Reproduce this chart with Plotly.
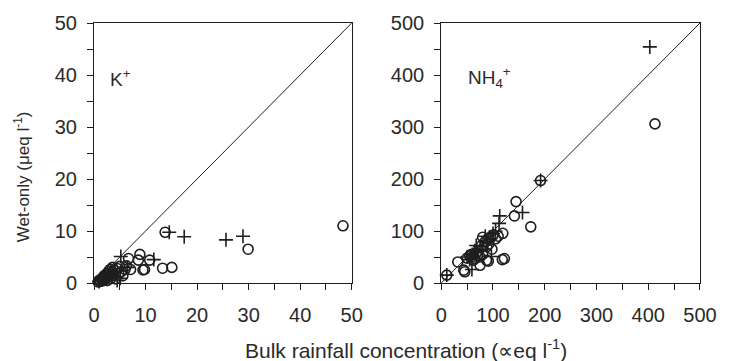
import plotly.graph_objects as go

# K+ panel (bulk x, wet-only y), ueq/l
k_circ_x = [0.8,1.0,1.2,1.5,1.6,1.8,2.0,2.1,2.3,2.5,2.6,2.8,3.0,3.1,3.3,3.5,3.6,3.8,4.0,4.2,4.5,4.8,5.0,5.3,5.6,6.0,6.3,7.1,6.7,8.6,8.9,9.5,9.8,10.8,13.3,15.1,13.8,29.9,48.3]
k_circ_y = [0.2,0.5,0.3,0.8,0.4,1.2,0.6,1.5,1.0,1.8,0.5,2.2,1.3,2.6,0.9,2.0,3.0,1.5,2.4,0.8,2.8,1.8,3.2,2.2,1.4,2.6,3.3,2.6,4.7,4.4,5.5,2.5,2.6,4.4,2.85,3.0,9.75,6.5,11.0]
k_plus_x = [1.0,1.5,2.0,2.5,3.0,3.5,4.0,4.5,3.2,5.1,5.2,6.5,11.6,14.6,17.5,25.6,28.9]
k_plus_y = [0.3,0.6,1.0,0.7,1.6,1.2,2.0,0.5,2.5,0.9,5.1,3.0,4.5,9.75,8.9,8.3,9.0]

# NH4+ panel
n_circ_x = [10.7,32,43.6,45.5,75,87.7,91,118,122,50,55,60,65,70,75,80,62,58,68,78,85,90,95,100,88,92,105,98,80,110,119,141.4,144.6,173,191.9,413]
n_circ_y = [15.2,40.5,24.7,21.5,34,43.7,42,45,47,48,52,50,47,53,50,55,44,55,58,72,80,85,88,92,70,75,85,65,88,90,95.6,129,156.5,108,197,306]
n_plus_x = [10.7,50,55,59.3,60,65,67.6,70,75,80,85,90,95,97,100,105,111.7,113,157,192,403]
n_plus_y = [15.2,50,45,26,55,62,72,60,70,65,90,80,85,51,95,100,114.6,129,135.6,197,454]

k_range = [0, 50]
n_range = [0, 500]

ink = "#1e1e1e"
txt = "#2a2a2a"
font = "Liberation Sans, Arial, sans-serif"

fig = go.Figure()

def add_panel(xa, ya, cx, cy, px, py, rng):
    fig.add_trace(go.Scatter(x=rng, y=rng, mode="lines", line=dict(color=ink, width=1),
                             xaxis=xa, yaxis=ya, showlegend=False, hoverinfo="skip"))
    fig.add_trace(go.Scatter(x=cx, y=cy, mode="markers", xaxis=xa, yaxis=ya, showlegend=False,
                             cliponaxis=False,
                             marker=dict(symbol="circle-open", size=10, color=ink, line=dict(width=1.6, color=ink))))
    fig.add_trace(go.Scatter(x=px, y=py, mode="markers", xaxis=xa, yaxis=ya, showlegend=False,
                             cliponaxis=False,
                             marker=dict(symbol="cross-thin-open", size=10, color=ink, line=dict(width=1.6, color=ink))))

add_panel("x", "y", k_circ_x, k_circ_y, k_plus_x, k_plus_y, k_range)
add_panel("x2", "y2", n_circ_x, n_circ_y, n_plus_x, n_plus_y, n_range)

def axis(domain, rng, dtick, anchor):
    return dict(domain=domain, range=rng, dtick=dtick, anchor=anchor,
                showline=True, mirror=True, linecolor=ink, linewidth=1,
                ticks="outside", ticklen=6, tickwidth=1, tickcolor=ink,
                minor=dict(ticks="outside", ticklen=6, dtick=dtick / 2, tickcolor=ink, tickwidth=1),
                showgrid=False, zeroline=False,
                tickfont=dict(family=font, size=20, color=txt))

xa1 = axis([0, 0.4253], k_range, 10, "y"); xa1["ticklabelstandoff"] = 8
xa2 = axis([0.573, 1], n_range, 100, "y2"); xa2["ticklabelstandoff"] = 8
ya1 = axis([0, 1], k_range, 10, "x"); ya1["ticklabelstandoff"] = 6
ya2 = axis([0, 1], n_range, 100, "x2"); ya2["ticklabelstandoff"] = 6

fig.update_layout(
    width=729, height=361,
    margin=dict(l=94, r=19, t=20, b=78),
    paper_bgcolor="white", plot_bgcolor="white",
    xaxis=xa1, yaxis=ya1, xaxis2=xa2, yaxis2=ya2,
    annotations=[
        dict(text="K<sup>+</sup>", x=2.7, y=39.5, xref="x", yref="y", xanchor="left", yanchor="middle",
             showarrow=False, font=dict(family=font, size=19, color=txt)),
        dict(text="NH<sub>4</sub><sup>+</sup>", x=48, y=395, xref="x2", yref="y2", xanchor="left", yanchor="middle",
             showarrow=False, font=dict(family=font, size=19, color=txt)),
        dict(text="Wet-only (μeq l<sup>-1</sup>)", x=0, y=0.407, xref="paper", yref="paper",
             xshift=-72, textangle=-90, xanchor="center", yanchor="middle",
             showarrow=False, font=dict(family=font, size=17, color=txt)),
        dict(text="Bulk rainfall concentration (∝eq l<sup>-1</sup>)", x=0.515, y=0, xref="paper", yref="paper",
             yshift=-66, xanchor="center", yanchor="middle",
             showarrow=False, font=dict(family=font, size=21, color=txt)),
    ],
)

# remove the default page margin so the figure sits at the window's top-left corner
fig.write_html("out.html",
               config={"displayModeBar": False},
               post_script="document.body.style.margin='0';document.body.style.overflow='hidden';")
